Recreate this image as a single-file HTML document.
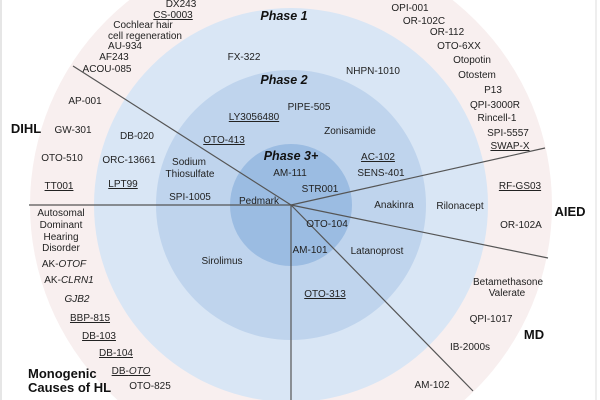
<!DOCTYPE html>
<html><head><meta charset="utf-8"><style>
html,body{margin:0;padding:0;background:#fff;width:600px;height:400px;overflow:hidden;}
svg{display:block;font-family:"Liberation Sans",sans-serif;}
text{font-size:10px;fill:#222;text-anchor:middle;}
.u{text-decoration:underline;}
.b{font-weight:bold;font-size:13px;fill:#111;}
.p{font-weight:bold;font-style:italic;font-size:12.5px;fill:#111;}
</style></head><body>
<svg width="600" height="400" viewBox="0 0 600 400">
<rect x="0" y="0" width="600" height="400" fill="#fff"/>
<line x1="1" y1="0" x2="1" y2="400" stroke="#ccc"/>
<line x1="596" y1="0" x2="596" y2="400" stroke="#ddd"/>
<circle cx="291" cy="205" r="261" fill="#f8efef"/>
<circle cx="291" cy="205" r="197" fill="#d9e6f5"/>
<circle cx="291" cy="205" r="135" fill="#bfd4ed"/>
<circle cx="291" cy="205" r="61" fill="#9bbce2"/>
<g stroke="#555" stroke-width="1.2">
<line x1="291" y1="205" x2="73" y2="66"/>
<line x1="291" y1="205" x2="545" y2="148"/>
<line x1="291" y1="205" x2="29" y2="205"/>
<line x1="291" y1="205" x2="291" y2="400"/>
<line x1="291" y1="205" x2="548" y2="258"/>
<line x1="291" y1="205" x2="473" y2="391"/>
</g>
<text class="p" x="284" y="20">Phase 1</text>
<text class="p" x="284" y="84">Phase 2</text>
<text class="p" x="291" y="160">Phase 3+</text>
<text class="b" x="26" y="133">DIHL</text>
<text class="b" x="570" y="216">AIED</text>
<text class="b" x="534" y="339">MD</text>
<text class="b" x="28" y="378" style="text-anchor:start">Monogenic</text>
<text class="b" x="28" y="392" style="text-anchor:start">Causes of HL</text>
<text x="181" y="7">DX243</text>
<text class="u" x="173" y="18">CS-0003</text>
<text x="143" y="28">Cochlear hair</text>
<text x="145" y="39">cell regeneration</text>
<text x="125" y="49">AU-934</text>
<text x="114" y="60">AF243</text>
<text x="107" y="72">ACOU-085</text>
<text x="85" y="104">AP-001</text>
<text x="73" y="133">GW-301</text>
<text x="62" y="161">OTO-510</text>
<text class="u" x="59" y="189">TT001</text>
<text x="137" y="139">DB-020</text>
<text x="129" y="163">ORC-13661</text>
<text class="u" x="123" y="187">LPT99</text>
<text x="189" y="165">Sodium</text>
<text x="190" y="177">Thiosulfate</text>
<text x="190" y="200">SPI-1005</text>
<text x="259" y="204">Pedmark</text>
<text x="244" y="60">FX-322</text>
<text x="373" y="74">NHPN-1010</text>
<text x="309" y="110">PIPE-505</text>
<text class="u" x="254" y="120">LY3056480</text>
<text class="u" x="224" y="143">OTO-413</text>
<text x="350" y="134">Zonisamide</text>
<text x="290" y="176">AM-111</text>
<text x="320" y="192">STR001</text>
<text x="381" y="176">SENS-401</text>
<text class="u" x="378" y="160">AC-102</text>
<text x="394" y="208">Anakinra</text>
<text x="460" y="209">Rilonacept</text>
<text x="327" y="227">OTO-104</text>
<text x="310" y="253">AM-101</text>
<text x="377" y="254">Latanoprost</text>
<text x="222" y="264">Sirolimus</text>
<text class="u" x="325" y="297">OTO-313</text>
<text x="395" y="0">Inner ear</text>
<text x="410" y="11">OPI-001</text>
<text x="424" y="24">OR-102C</text>
<text x="447" y="35">OR-112</text>
<text x="459" y="49">OTO-6XX</text>
<text x="472" y="63">Otopotin</text>
<text x="477" y="78">Otostem</text>
<text x="493" y="93">P13</text>
<text x="495" y="108">QPI-3000R</text>
<text x="497" y="121">Rincell-1</text>
<text x="508" y="136">SPI-5557</text>
<text class="u" x="510" y="149">SWAP-X</text>
<text class="u" x="520" y="189">RF-GS03</text>
<text x="521" y="228">OR-102A</text>
<text x="508" y="285">Betamethasone</text>
<text x="507" y="296">Valerate</text>
<text x="491" y="322">QPI-1017</text>
<text x="470" y="350">IB-2000s</text>
<text x="432" y="388">AM-102</text>
<text x="61" y="216">Autosomal</text>
<text x="61" y="228">Dominant</text>
<text x="61" y="240">Hearing</text>
<text x="61" y="251">Disorder</text>
<text x="64" y="267">AK-<tspan font-style="italic">OTOF</tspan></text>
<text x="69" y="283">AK-<tspan font-style="italic">CLRN1</tspan></text>
<text x="77" y="302" font-style="italic">GJB2</text>
<text class="u" x="90" y="321">BBP-815</text>
<text class="u" x="99" y="339">DB-103</text>
<text class="u" x="116" y="356">DB-104</text>
<text class="u" x="131" y="374">DB-<tspan font-style="italic">OTO</tspan></text>
<text x="150" y="389">OTO-825</text>
</svg>
</body></html>
